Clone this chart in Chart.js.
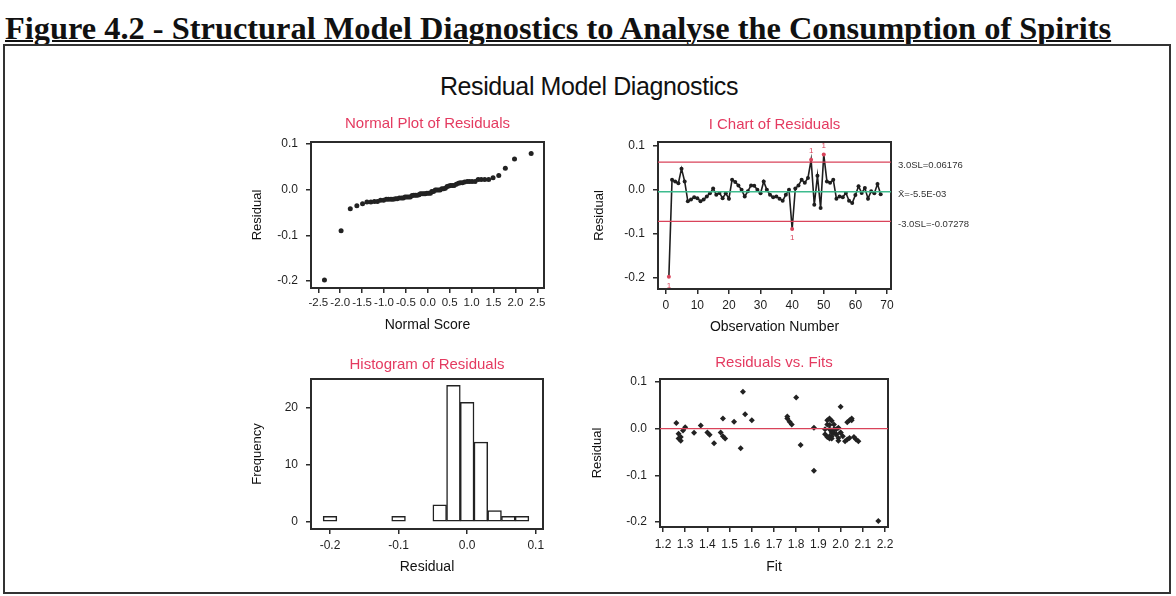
<!DOCTYPE html>
<html lang="en">
<head>
    <meta charset="UTF-8">
    <title>Residual Model Diagnostics</title>
    <script src="https://cdn.jsdelivr.net/npm/chart.js@4"></script>
    <style>
        * {
            margin: 0;
            padding: 0;
            box-sizing: border-box;
        }

        body {
            width: 1176px;
            height: 596px;
            background: #fff;
            position: relative;
            overflow: hidden;
            font-family: "Liberation Sans", Arial, sans-serif;
        }

        .caption {
            position: absolute;
            left: 5px;
            top: 10px;
            font-family: "Liberation Serif", "Times New Roman", serif;
            font-weight: bold;
            font-size: 32.4px;
            line-height: 36px;
            color: #111;
            text-decoration: underline;
            text-decoration-thickness: 2px;
            white-space: nowrap;
        }

        .frame {
            position: absolute;
            left: 3px;
            top: 44px;
            width: 1168px;
            height: 550px;
            border: 2px solid #333;
        }

        .heading {
            position: absolute;
            left: 0;
            width: 1176px;
            top: 72px;
            padding-left: 2px;
            text-align: center;
            font-size: 25px;
            color: #111;
            letter-spacing: -0.4px;
        }

        canvas {
            position: absolute;
        }
    </style>
</head>
<body>
    <div class="caption">Figure 4.2 - Structural Model Diagnostics to Analyse the Consumption of Spirits</div>
    <div class="frame"></div>
    <div class="heading">Residual Model Diagnostics</div>

    <canvas id="normalPlot" width="313" height="221" style="left:245px;top:115px"></canvas>
    <canvas id="iChart" width="412" height="222" style="left:588px;top:116px"></canvas>
    <canvas id="histogram" width="313" height="222" style="left:245px;top:356px"></canvas>
    <canvas id="residFits" width="317" height="224" style="left:588px;top:354px"></canvas>

    <script>
        // Residuals in observation order
        const residuals = [
            -0.198, 0.022, 0.018, 0.014, 0.047, 0.018, -0.027, -0.023, -0.018, -0.020,
            -0.027, -0.023, -0.016, -0.009, 0.002, -0.012, -0.008, -0.020, -0.009, -0.021,
            0.022, 0.017, 0.009, -0.001, -0.016, -0.004, 0.009, 0.008, -0.001, -0.009,
            0.018, -0.001, -0.012, -0.018, -0.016, -0.021, -0.026, -0.012, -0.001, -0.090,
            0.002, 0.009, 0.022, 0.015, 0.026, 0.067, -0.035, 0.031, -0.042, 0.079,
            0.018, 0.015, 0.022, -0.021, -0.016, -0.018, -0.008, -0.026, -0.031, -0.013,
            0.007, -0.008, 0.003, -0.021, -0.004, -0.009, 0.012, -0.011
        ];

        // Fitted values, same order as the residuals
        const fits = [
            2.17, 2.05, 2.04, 2.03, 2.00, 2.05, 2.08, 2.07, 2.06, 2.04,
            2.02, 2.03, 2.01, 2.00, 1.99, 1.98, 2.00, 1.99, 1.97, 1.96,
            1.95, 1.96, 1.97, 1.98, 1.95, 1.96, 1.94, 1.95, 1.97, 1.96,
            1.94, 1.95, 1.93, 1.94, 1.96, 1.95, 1.99, 1.98, 1.93, 1.88,
            1.88, 1.78, 1.76, 1.77, 1.76, 1.80, 1.82, 1.57, 1.55, 1.56,
            1.60, 1.52, 1.47, 1.48, 1.47, 1.28, 1.46, 1.28, 1.43, 1.41,
            1.37, 1.40, 1.30, 1.27, 1.29, 1.34, 1.26, 1.27
        ];

        // Normal scores for the ranked residuals
        const normalScores = [
            -2.36, -1.98, -1.77, -1.62, -1.49, -1.39, -1.30, -1.22, -1.15, -1.08,
            -1.01, -0.95, -0.90, -0.84, -0.79, -0.74, -0.70, -0.65, -0.60, -0.56,
            -0.52, -0.48, -0.44, -0.40, -0.36, -0.32, -0.28, -0.24, -0.20, -0.17,
            -0.13, -0.09, -0.06, -0.02, 0.02, 0.06, 0.09, 0.13, 0.17, 0.20,
            0.24, 0.28, 0.32, 0.36, 0.40, 0.44, 0.48, 0.52, 0.56, 0.60,
            0.65, 0.70, 0.74, 0.79, 0.84, 0.90, 0.95, 1.01, 1.08, 1.15,
            1.22, 1.30, 1.39, 1.49, 1.62, 1.77, 1.98, 2.36
        ];

        // Histogram bins (midpoints) and frequencies
        const binMids = [-0.20, -0.10, -0.04, -0.02, 0.00, 0.02, 0.04, 0.06, 0.08];
        const binCounts = [1, 1, 3, 24, 21, 14, 2, 1, 1];

        // Control limits for the I chart
        const upperLimit = 0.06176;
        const centerLine = -0.0055;
        const lowerLimit = -0.07278;
        const limitLabels = ['3.0SL=0.06176', 'X\u0304=-5.5E-03', '-3.0SL=-0.07278'];

        const SANS = '"Liberation Sans", Arial, sans-serif';
        const INK = '#2b2b2b';
        const TITLE_RED = '#e43a60';
        const LIMIT_RED = '#d9435a';
        const CENTER_GREEN = '#3dbb8e';

        Chart.defaults.font.family = SANS;
        Chart.defaults.color = INK;

        function fmt(v, decimals) {
            if (Math.abs(v) < 1e-9) v = 0;
            return v.toFixed(decimals);
        }

        // Axis with outside ticks and a fixed size so plot areas line up
        function axis(opts) {
            const horizontal = opts.horizontal;
            return {
                type: 'linear',
                min: opts.min,
                max: opts.max,
                offset: false,
                afterFit: s => {
                    if (horizontal) s.height = opts.size; else s.width = opts.size;
                },
                ticks: {
                    stepSize: opts.step,
                    includeBounds: false,
                    autoSkip: false,
                    maxRotation: 0,
                    padding: opts.tickPad,
                    font: { size: opts.tickSize || 12 },
                    color: '#1e1e1e',
                    callback: v => fmt(v, opts.decimals)
                },
                grid: {
                    drawOnChartArea: false,
                    drawTicks: true,
                    tickLength: 5,
                    color: INK,
                    lineWidth: 1.5,
                    offset: false
                },
                border: { display: true, color: INK, width: 2 },
                title: {
                    display: true,
                    text: opts.label,
                    font: { size: horizontal ? 14 : 13 },
                    color: '#111',
                    padding: horizontal ? { top: 0, bottom: 2 } : { top: opts.titlePad, bottom: 0 }
                }
            };
        }

        function panelTitle(text, padBottom) {
            return {
                display: true,
                text: text,
                color: TITLE_RED,
                fullSize: false,
                font: { size: 15, weight: 'normal' },
                padding: { top: 0, bottom: padBottom }
            };
        }

        // Closes the plot area into a box
        const frameBox = {
            id: 'frameBox',
            beforeDatasetsDraw(chart) {
                const { ctx, chartArea: a } = chart;
                ctx.save();
                ctx.strokeStyle = INK;
                ctx.lineWidth = 2;
                ctx.strokeRect(a.left, a.top, a.right - a.left, a.bottom - a.top);
                ctx.restore();
            }
        };

        function baseOptions(titleText, titlePad, padRight, xOpts, yOpts) {
            return {
                responsive: false,
                animation: false,
                devicePixelRatio: 1,
                layout: { padding: { left: 0, right: padRight, top: 0, bottom: 0 } },
                plugins: {
                    legend: { display: false },
                    tooltip: { enabled: false },
                    title: panelTitle(titleText, titlePad)
                },
                scales: {
                    x: axis(Object.assign({ horizontal: true }, xOpts)),
                    y: axis(Object.assign({ horizontal: false }, yOpts))
                }
            };
        }

        // Normal probability plot
        const ranked = residuals.slice().sort((a, b) => a - b);
        new Chart(document.getElementById('normalPlot'), {
            type: 'scatter',
            data: {
                datasets: [{
                    data: normalScores.map((z, i) => ({ x: z, y: ranked[i] })),
                    pointRadius: 2.5,
                    pointBackgroundColor: '#222',
                    pointBorderWidth: 0
                }]
            },
            options: baseOptions('Normal Plot of Residuals', 9, 14,
                { min: -2.667, max: 2.653, step: 0.5, decimals: 1, size: 48, tickPad: 3, tickSize: 11.5, label: 'Normal Score' },
                { min: -0.2154, max: 0.1044, step: 0.1, decimals: 1, size: 66, titlePad: 5, tickPad: 8, label: 'Residual' }),
            plugins: [frameBox]
        });

        // I chart with control limits
        const xLo = -2.44, xHi = 71.27;
        const isOut = r => r > upperLimit || r < lowerLimit;
        const limitLine = (value, color, width) => ({
            type: 'line',
            data: [{ x: xLo, y: value }, { x: xHi, y: value }],
            borderColor: color,
            borderWidth: width,
            pointRadius: 0
        });

        const limitText = {
            id: 'limitText',
            afterDatasetsDraw(chart) {
                const { ctx, chartArea: a, scales: { x, y } } = chart;
                ctx.save();
                ctx.font = '9.5px ' + SANS;
                ctx.fillStyle = '#333';
                ctx.textAlign = 'left';
                ctx.textBaseline = 'middle';
                [upperLimit, centerLine, lowerLimit].forEach((v, i) => {
                    ctx.fillText(limitLabels[i], a.right + 7, y.getPixelForValue(v) + 3);
                });
                // failed-test markers
                ctx.fillStyle = LIMIT_RED;
                ctx.font = '8px ' + SANS;
                ctx.textAlign = 'center';
                residuals.forEach((r, i) => {
                    if (!isOut(r)) return;
                    const px = x.getPixelForValue(i + 1);
                    const py = y.getPixelForValue(r);
                    ctx.fillText('1', px, r > 0 ? py - 9 : py + 9);
                });
                ctx.restore();
            }
        };

        new Chart(document.getElementById('iChart'), {
            type: 'line',
            data: {
                datasets: [
                    limitLine(upperLimit, LIMIT_RED, 1.2),
                    limitLine(lowerLimit, LIMIT_RED, 1.2),
                    limitLine(centerLine, CENTER_GREEN, 1.5),
                    {
                        data: residuals.map((r, i) => ({ x: i + 1, y: r })),
                        borderColor: '#1e1e1e',
                        borderWidth: 1.6,
                        pointRadius: 2,
                        pointBackgroundColor: residuals.map(r => isOut(r) ? LIMIT_RED : '#1e1e1e'),
                        pointBorderWidth: 0,
                        tension: 0
                    }
                ]
            },
            options: baseOptions('I Chart of Residuals', 8, 109,
                { min: xLo, max: xHi, step: 10, decimals: 0, size: 49, tickPad: 4, label: 'Observation Number' },
                { min: -0.226, max: 0.1075, step: 0.1, decimals: 1, size: 70, titlePad: 4, tickPad: 8, label: 'Residual' }),
            plugins: [frameBox, limitText]
        });

        // Histogram of residuals
        new Chart(document.getElementById('histogram'), {
            type: 'bar',
            data: {
                datasets: [{
                    data: binMids.map((m, i) => ({ x: m, y: binCounts[i] })),
                    backgroundColor: '#fff',
                    borderColor: '#222',
                    borderWidth: 1.5,
                    borderSkipped: false,
                    barPercentage: 1,
                    categoryPercentage: 1
                }]
            },
            options: baseOptions('Histogram of Residuals', 5, 15,
                { min: -0.2277, max: 0.1106, step: 0.1, decimals: 1, size: 49, tickPad: 4, label: 'Residual' },
                { min: -1.23, max: 25.09, step: 10, decimals: 0, size: 66, titlePad: 5, tickPad: 8, label: 'Frequency' }),
            plugins: [frameBox]
        });

        // Residuals against fitted values
        const fitLo = 1.1865, fitHi = 2.2135;
        new Chart(document.getElementById('residFits'), {
            type: 'scatter',
            data: {
                datasets: [
                    {
                        type: 'line',
                        data: [{ x: fitLo, y: 0 }, { x: fitHi, y: 0 }],
                        borderColor: LIMIT_RED,
                        borderWidth: 1.2,
                        pointRadius: 0
                    },
                    {
                        data: fits.map((f, i) => ({ x: f, y: residuals[i] })),
                        pointStyle: 'rectRot',
                        pointRadius: 3,
                        pointBackgroundColor: '#222',
                        pointBorderWidth: 0
                    }
                ]
            },
            options: baseOptions('Residuals vs. Fits', 7, 17,
                { min: fitLo, max: fitHi, step: 0.1, decimals: 1, size: 51, tickPad: 5, label: 'Fit' },
                { min: -0.2107, max: 0.1064, step: 0.1, decimals: 1, size: 72, titlePad: 2, tickPad: 8, label: 'Residual' }),
            plugins: [frameBox]
        });
    </script>
</body>
</html>
